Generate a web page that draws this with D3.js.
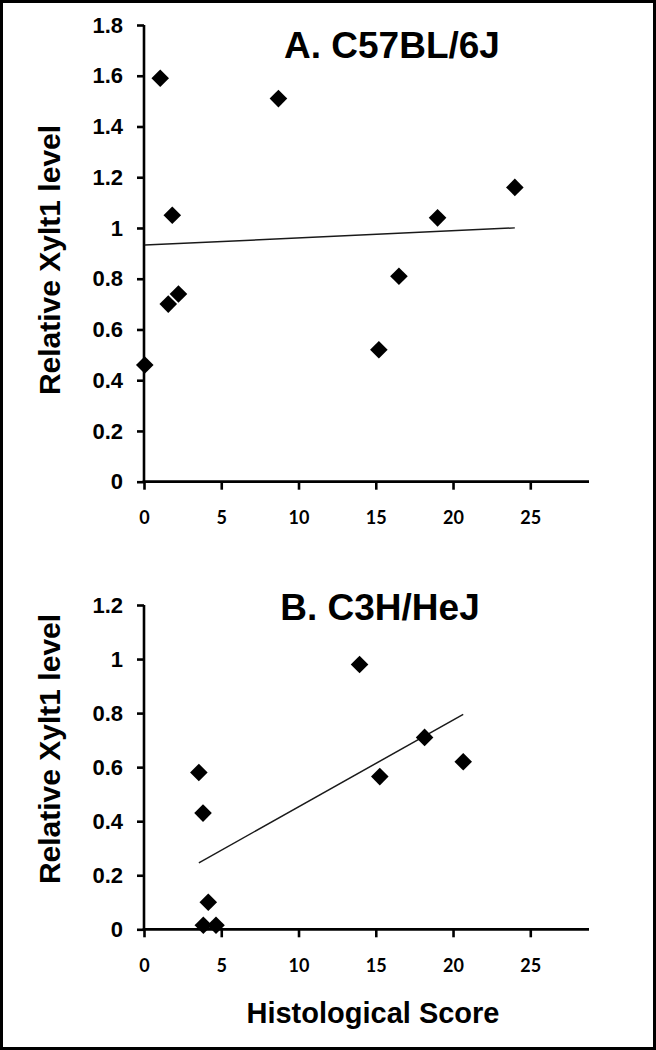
<!DOCTYPE html>
<html>
<head>
<meta charset="utf-8">
<script src="https://cdn.jsdelivr.net/npm/d3@7"></script>
<style>
  html, body { margin: 0; padding: 0; background: #fff; }
  svg { display: block; }
</style>
</head>
<body>
<svg id="chart" width="656" height="1050"></svg>
<script>
// ---- Data ----
const xTicks = [0, 5, 10, 15, 20, 25];

const titleA = "A. C57BL/6J";
const xA = [1.05, 8.7, 1.83, 19.0, 24.0, 1.57, 2.23, 16.5, 15.2, 0.05];
const yA = [1.59, 1.51, 1.05, 1.04, 1.16, 0.70, 0.74, 0.81, 0.52, 0.46];
const yTicksA = [0, 0.2, 0.4, 0.6, 0.8, 1.0, 1.2, 1.4, 1.6, 1.8];

const titleB = "B. C3H/HeJ";
const xB = [13.95, 18.16, 20.66, 3.55, 15.26, 3.82, 4.16, 3.84, 4.66];
const yB = [0.98, 0.71, 0.62, 0.58, 0.565, 0.43, 0.10, 0.015, 0.015];
const yTicksB = [0, 0.2, 0.4, 0.6, 0.8, 1.0, 1.2];

const yAxisTitle = "Relative Xylt1 level";
const xAxisTitle = "Histological Score";

// ---- Drawing ----
const svg = d3.select("#chart");
const W = 656, H = 1050;

svg.append("rect").attr("x", 0).attr("y", 0).attr("width", W).attr("height", H).attr("fill", "#fff");
svg.append("rect").attr("x", 1.5).attr("y", 1.5).attr("width", W - 3).attr("height", H - 3)
  .attr("fill", "none").attr("stroke", "#000").attr("stroke-width", 3);

const boldSans = "'Liberation Sans', Arial, sans-serif";
const tickFontX = "Lato, 'Open Sans', sans-serif";

function regression(xs, ys) {
  const mx = d3.mean(xs), my = d3.mean(ys);
  let sxy = 0, sxx = 0;
  xs.forEach((x, i) => { sxy += (x - mx) * (ys[i] - my); sxx += (x - mx) * (x - mx); });
  const b = sxy / sxx, a = my - b * mx;
  return x => a + b * x;
}

function panel(cfg) {
  const x = d3.scaleLinear().domain([0, 28.8]).range([144, 589]);
  const y = d3.scaleLinear().domain([0, cfg.yMax]).range([cfg.y0, cfg.yTop]);
  const g = svg.append("g");

  // y axis
  const yAxis = d3.axisLeft(y).tickValues(cfg.yTicks).tickSize(7).tickPadding(14)
    .tickFormat(d => String(+d.toFixed(1)));
  const gy = g.append("g").attr("transform", `translate(${x(0)},0)`).call(yAxis);
  gy.select(".domain").attr("d", `M0,${y(cfg.yMax)}V${y(0)}`).attr("stroke", "#000").attr("stroke-width", 2.6);
  gy.selectAll(".tick line").attr("stroke", "#000").attr("stroke-width", 2.6);
  gy.selectAll(".tick text").attr("font-family", boldSans).attr("font-weight", "bold")
    .attr("font-size", 22).attr("fill", "#000");

  // x axis
  const xAxis = d3.axisBottom(x).tickValues(xTicks).tickSize(8).tickPadding(22);
  const gx = g.append("g").attr("transform", `translate(0,${y(0)})`).call(xAxis);
  gx.select(".domain").attr("d", `M${x(0) - 1.3},0H${x(28.8)}`).attr("stroke", "#000").attr("stroke-width", 2.8);
  gx.selectAll(".tick line").attr("stroke", "#000").attr("stroke-width", 2.6);
  gx.selectAll(".tick text").attr("font-family", tickFontX).attr("font-weight", "bold")
    .attr("font-size", 18).attr("fill", "#000");

  // trend line
  const f = regression(cfg.xs, cfg.ys);
  const xmin = d3.min(cfg.xs), xmax = d3.max(cfg.xs);
  g.append("line")
    .attr("x1", x(xmin)).attr("y1", y(f(xmin)))
    .attr("x2", x(xmax)).attr("y2", y(f(xmax)))
    .attr("stroke", "#1a1a1a").attr("stroke-width", 1.5);

  // points (diamonds)
  const diamond = d3.symbol().type(d3.symbolSquare).size(155);
  g.selectAll("path.pt").data(cfg.xs.map((v, i) => [v, cfg.ys[i]])).join("path")
    .attr("class", "pt")
    .attr("d", diamond)
    .attr("transform", d => `translate(${x(d[0])},${y(d[1])}) rotate(45)`)
    .attr("fill", "#000");

  // title
  g.append("text").attr("x", cfg.titleX).attr("y", cfg.titleY).attr("text-anchor", "middle")
    .attr("font-family", boldSans).attr("font-weight", "bold").attr("font-size", 37)
    .attr("fill", "#000").text(cfg.title);

  // y axis title
  g.append("text").attr("transform", `translate(60,${cfg.yTitleY}) rotate(-90)`)
    .attr("text-anchor", "middle")
    .attr("font-family", boldSans).attr("font-weight", "bold").attr("font-size", 30)
    .attr("fill", "#000").text(yAxisTitle);
}

panel({ xs: xA, ys: yA, yTicks: yTicksA, yMax: 1.8, y0: 481.7, yTop: 25,
        title: titleA, titleX: 392, titleY: 58, yTitleY: 260 });
panel({ xs: xB, ys: yB, yTicks: yTicksB, yMax: 1.2, y0: 929.3, yTop: 605,
        title: titleB, titleX: 380, titleY: 620, yTitleY: 749 });

svg.append("text").attr("x", 373).attr("y", 1023).attr("text-anchor", "middle")
  .attr("font-family", boldSans).attr("font-weight", "bold").attr("font-size", 29)
  .attr("fill", "#000").text(xAxisTitle);
</script>
</body>
</html>
